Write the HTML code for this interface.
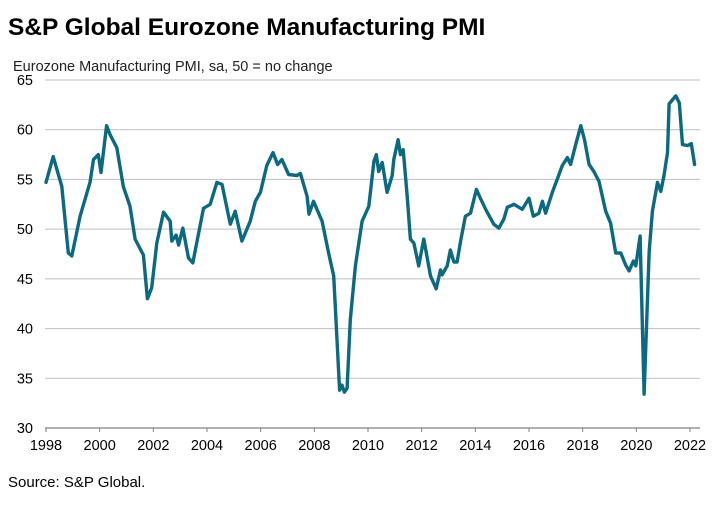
<!DOCTYPE html>
<html><head><meta charset="utf-8">
<style>
html,body{margin:0;padding:0;background:#fff;}
body{width:721px;height:509px;overflow:hidden;font-family:"Liberation Sans",Arial,sans-serif;}
svg text{font-family:"Liberation Sans",Arial,sans-serif;}
</style></head>
<body>
<svg id="chart" width="721" height="509" xmlns="http://www.w3.org/2000/svg">
<text x="8" y="35" font-size="24.5" font-weight="bold" fill="#000">S&amp;P Global Eurozone Manufacturing PMI</text>
<text x="13" y="71" font-size="14.5" fill="#222">Eurozone Manufacturing PMI, sa, 50 = no change</text>
<text x="8" y="487" font-size="15" fill="#000">Source: S&amp;P Global.</text>
<g id="grid"></g><g id="axes"></g><g id="series"></g>
</svg>
<script>
const dates=[1998.0,1998.27,1998.59,1998.83,1998.96,1999.27,1999.64,1999.77,1999.95,2000.05,2000.26,2000.39,2000.64,2000.88,2001.13,2001.32,2001.63,2001.78,2001.94,2002.13,2002.38,2002.63,2002.69,2002.85,2002.94,2003.10,2003.31,2003.47,2003.87,2004.12,2004.37,2004.56,2004.87,2005.05,2005.30,2005.61,2005.80,2005.99,2006.23,2006.46,2006.63,2006.79,2007.04,2007.35,2007.48,2007.73,2007.80,2007.97,2008.29,2008.53,2008.72,2008.94,2009.03,2009.12,2009.22,2009.34,2009.53,2009.78,2010.03,2010.22,2010.31,2010.40,2010.53,2010.71,2010.90,2010.96,2011.12,2011.21,2011.31,2011.46,2011.58,2011.71,2011.89,2012.08,2012.33,2012.54,2012.70,2012.76,2012.95,2013.07,2013.20,2013.32,2013.45,2013.63,2013.82,2014.04,2014.19,2014.42,2014.69,2014.88,2015.06,2015.19,2015.44,2015.75,2016.0,2016.16,2016.37,2016.50,2016.62,2016.87,2017.05,2017.24,2017.43,2017.55,2017.74,2017.93,2018.07,2018.24,2018.42,2018.61,2018.86,2019.04,2019.23,2019.42,2019.60,2019.73,2019.89,2019.98,2020.14,2020.29,2020.48,2020.60,2020.79,2020.91,2021.03,2021.16,2021.22,2021.47,2021.60,2021.72,2021.91,2022.05,2022.17];
const values=[54.7,57.3,54.3,47.6,47.3,51.3,54.7,57.0,57.5,55.7,60.4,59.5,58.2,54.3,52.3,49.0,47.4,43.0,44.1,48.6,51.7,50.8,48.8,49.4,48.4,50.1,47.1,46.6,52.1,52.5,54.7,54.5,50.5,51.8,48.8,50.8,52.8,53.7,56.4,57.7,56.5,57.0,55.5,55.4,55.6,53.3,51.5,52.8,50.8,47.6,45.3,33.8,34.3,33.6,34.0,40.9,46.3,50.8,52.3,56.8,57.5,55.8,56.7,53.7,55.4,57.0,59.0,57.5,58.0,53.3,49.0,48.6,46.3,49.0,45.3,44.0,45.9,45.4,46.3,47.9,46.7,46.7,48.8,51.3,51.6,54.0,53.1,51.8,50.5,50.1,51.0,52.2,52.5,52.0,53.1,51.3,51.6,52.8,51.6,53.7,55.0,56.4,57.2,56.5,58.5,60.4,59.0,56.5,55.8,54.8,51.8,50.6,47.6,47.6,46.4,45.8,46.8,46.3,49.3,33.4,47.8,51.8,54.7,53.8,55.4,57.7,62.6,63.4,62.7,58.5,58.4,58.6,56.5];
const yTicks=[30,35,40,45,50,55,60,65];
const xTicks=[1998,2000,2002,2004,2006,2008,2010,2012,2014,2016,2018,2020,2022];

const NS="http://www.w3.org/2000/svg";
const X0=46,X1=690,Y0=428,Y1=80;
function xScale(t){return X0+(t-1998)/(2022-1998)*(X1-X0);}
function yScale(v){return Y0-(v-30)/(65-30)*(Y0-Y1);}
function mk(tag,attrs,parent){const e=document.createElementNS(NS,tag);for(const k in attrs)e.setAttribute(k,attrs[k]);parent.appendChild(e);return e;}
const grid=document.getElementById('grid'),axes=document.getElementById('axes'),series=document.getElementById('series');
yTicks.forEach(v=>{
  if(v>30){const l=mk('line',{x1:45,x2:700,y1:yScale(v),y2:yScale(v),stroke:'#bfbfbf','stroke-width':1},grid);
  
  }
  const t=mk('text',{x:33,y:yScale(v)+5,'text-anchor':'end','font-size':'14.5',fill:'#000'},axes);
  t.textContent=v;
  
  
});
const ax=mk('line',{x1:45,x2:700,y1:Y0,y2:Y0,stroke:'#808080','stroke-width':1.3},axes);


xTicks.forEach(yr=>{
  const x=xScale(yr);
  const tk=mk('line',{x1:x,x2:x,y1:Y0,y2:Y0+4,stroke:'#808080','stroke-width':1},axes);
  
  
  const t=mk('text',{x:x,y:Y0+22,'text-anchor':'middle','font-size':'14.5',fill:'#000'},axes);
  t.textContent=yr;
  
  
});
const d=dates.map((t,i)=>(i?'L':'M')+xScale(t).toFixed(1)+' '+yScale(values[i]).toFixed(1)).join(' ');
const p=mk('path',{d:d,fill:'none',stroke:'#0b6a80','stroke-width':3.4,'stroke-linejoin':'round','stroke-linecap':'round'},series);


</script>
</body></html>
